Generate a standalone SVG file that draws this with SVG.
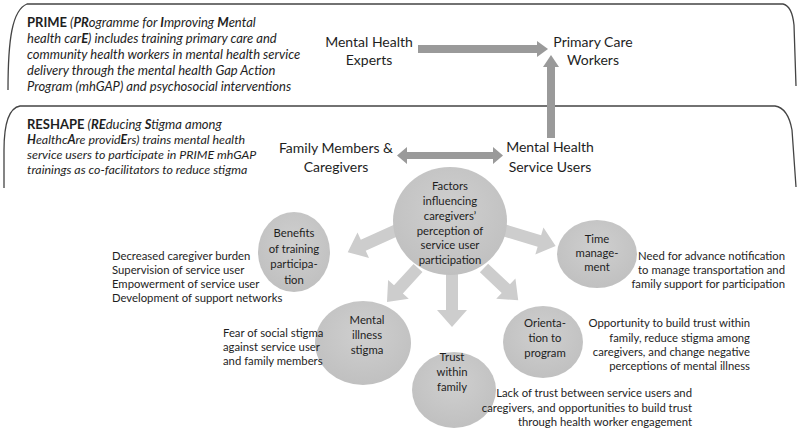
<svg xmlns="http://www.w3.org/2000/svg" width="800" height="433" viewBox="0 0 800 433">
<style>
text{font-family:Lato,"Open Sans","Liberation Sans",sans-serif;fill:#1e1e1e}
.lbl{font-size:14px;text-anchor:middle}
.it{font-size:13px;font-style:italic}
.it2{font-size:12.4px;font-style:italic}
.b{font-weight:bold}
.c{font-size:11.3px;text-anchor:middle}
.d{font-size:11.3px}
.r{text-anchor:end}
.brk{fill:none;stroke:#444;stroke-width:1.3}
.dark{fill:#9a9a9a}
.blk{fill:#cdcdcd}
.circ{fill:url(#g)}
</style>
<defs>
<radialGradient id="g" cx="50%" cy="40%" r="60%">
<stop offset="0" stop-color="#cfcfcf"/>
<stop offset="1" stop-color="#c0c0c0"/>
</radialGradient>
</defs>

<g id="prime">
<path class="brk" d="M8 90 C8 40 12 10 27 4 L783 4 Q792 6 794 25 L796 86"/>
<text class="it" x="27" y="27"><tspan class="b" font-style="normal">PRIME</tspan> (<tspan class="b">PR</tspan>ogramme for <tspan class="b">I</tspan>mproving <tspan class="b">M</tspan>ental</text>
<text class="it" x="27" y="43">health car<tspan class="b">E</tspan>) includes training primary care and</text>
<text class="it" x="27" y="59">community health workers in mental health service</text>
<text class="it" x="27" y="75">delivery through the mental health Gap Action</text>
<text class="it" x="27" y="91">Program (mhGAP) and psychosocial interventions</text>
</g>

<g id="reshape">
<path class="brk" d="M4 188 L4 150 C4 122 9 108 20 106 L775 106 Q788 108 792 130 L796 187"/>
<text class="it" x="27" y="129"><tspan class="b" font-style="normal">RESHAPE</tspan> (<tspan class="b">RE</tspan>ducing <tspan class="b">S</tspan>tigma among</text>
<text class="it2" x="27" y="144"><tspan class="b">H</tspan>ealthc<tspan class="b">A</tspan>re provid<tspan class="b">E</tspan>rs) trains mental health</text>
<text class="it2" x="27" y="159">service users to participate in PRIME mhGAP</text>
<text class="it2" x="27" y="174">trainings as co-facilitators to reduce stigma</text>
</g>

<g id="experts">
<text class="lbl" x="369" y="47">Mental Health</text>
<text class="lbl" x="369" y="65">Experts</text>
</g>
<g id="primary-care">
<text class="lbl" x="593" y="47">Primary Care</text>
<text class="lbl" x="593" y="65">Workers</text>
</g>
<g id="family">
<text class="lbl" x="336" y="153">Family Members &amp;</text>
<text class="lbl" x="336" y="172">Caregivers</text>
</g>
<g id="service-users">
<text class="lbl" x="550" y="152">Mental Health</text>
<text class="lbl" x="550" y="172">Service Users</text>
</g>

<g id="connectors">
<polygon class="dark" points="418,45 537,45 537,41 548,49 537,57 537,53 418,53"/>
<polygon class="dark" points="547,138 547,67 543,67 551,55 559,67 555,67 555,138"/>
<polygon class="dark" points="397,155.5 407,147 407,152 493,152 493,147 503,155.5 493,164 493,159 407,159 407,164"/>
<polygon class="blk" transform="translate(397,230) rotate(155.8)" points="0,-6 37,-6 37,-14 54,0 37,14 37,6 0,6"/>
<polygon class="blk" transform="translate(503,230) rotate(16.8)" points="0,-6 38,-6 38,-14 55,0 38,14 38,6 0,6"/>
<polygon class="blk" transform="translate(418,268) rotate(132.4)" points="0,-6 29,-6 29,-14 46,0 29,14 29,6 0,6"/>
<polygon class="blk" transform="translate(452,274) rotate(90)" points="0,-6 36,-6 36,-15 53,0 36,15 36,6 0,6"/>
<polygon class="blk" transform="translate(484,268) rotate(43.3)" points="0,-6 30,-6 30,-14 47,0 30,14 30,6 0,6"/>
</g>

<g id="factors">
<ellipse class="circ" cx="450" cy="221" rx="57" ry="54"/>
<text class="c" x="450" y="190">Factors</text>
<text class="c" x="450" y="205">influencing</text>
<text class="c" x="450" y="220">caregivers’</text>
<text class="c" x="450" y="235">perception of</text>
<text class="c" x="450" y="249">service user</text>
<text class="c" x="450" y="264">participation</text>
</g>

<g id="benefits">
<ellipse class="circ" cx="294" cy="252" rx="36" ry="40"/>
<text class="c" x="294" y="237">Benefits</text>
<text class="c" x="294" y="253">of training</text>
<text class="c" x="294" y="268">participa-</text>
<text class="c" x="294" y="284">tion</text>
<text class="d" x="112" y="260">Decreased caregiver burden</text>
<text class="d" x="112" y="274">Supervision of service user</text>
<text class="d" x="112" y="288">Empowerment of service user</text>
<text class="d" x="112" y="302">Development of support networks</text>
</g>

<g id="time">
<ellipse class="circ" cx="597" cy="254" rx="40" ry="34"/>
<text class="c" x="597" y="243">Time</text>
<text class="c" x="597" y="257">manage-</text>
<text class="c" x="597" y="271">ment</text>
<text class="d r" x="785" y="260">Need for advance notification</text>
<text class="d r" x="785" y="274">to manage transportation and</text>
<text class="d r" x="785" y="288">family support for participation</text>
</g>

<g id="stigma">
<ellipse class="circ" cx="363" cy="343" rx="48" ry="42"/>
<text class="c" x="367" y="324">Mental</text>
<text class="c" x="367" y="339">illness</text>
<text class="c" x="367" y="354">stigma</text>
<text class="d" x="223" y="337">Fear of social stigma</text>
<text class="d" x="223" y="351">against service user</text>
<text class="d" x="223" y="365">and family members</text>
</g>

<g id="trust">
<ellipse class="circ" cx="454" cy="390" rx="42" ry="38"/>
<text class="c" x="452" y="361">Trust</text>
<text class="c" x="452" y="376">within</text>
<text class="c" x="452" y="391">family</text>
<text class="d r" x="692" y="397">Lack of trust between service users and</text>
<text class="d r" x="692" y="412">caregivers, and opportunities to build trust</text>
<text class="d r" x="692" y="426">through health worker engagement</text>
</g>

<g id="orientation">
<ellipse class="circ" cx="543" cy="342" rx="40" ry="36"/>
<text class="c" x="545" y="327">Orienta-</text>
<text class="c" x="545" y="342">tion to</text>
<text class="c" x="545" y="357">program</text>
<text class="d r" x="750" y="327">Opportunity to build trust within</text>
<text class="d r" x="750" y="342">family, reduce stigma among</text>
<text class="d r" x="750" y="356">caregivers, and change negative</text>
<text class="d r" x="750" y="370">perceptions of mental illness</text>
</g>
</svg>
